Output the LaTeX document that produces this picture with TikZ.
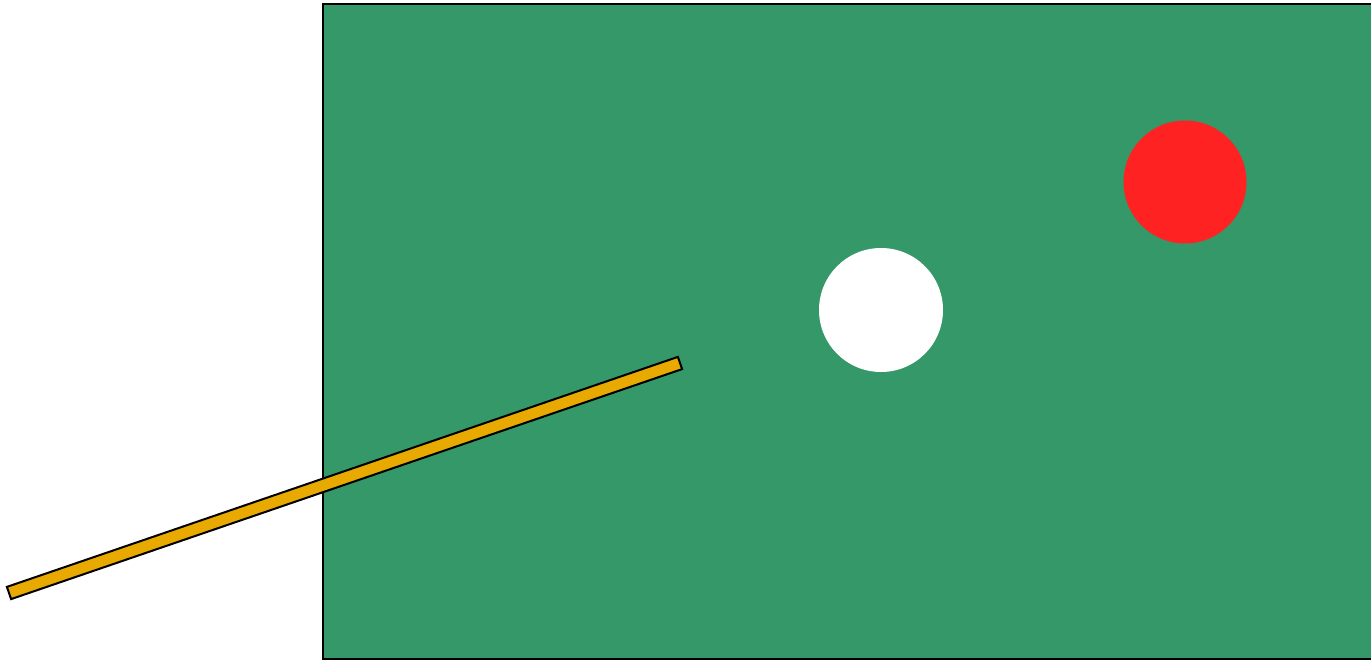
\documentclass[tikz,border=0pt]{standalone}
\definecolor{felt}{RGB}{52,152,104}
\definecolor{cuewood}{RGB}{232,170,0}
\definecolor{ballred}{RGB}{255,34,34}
\begin{document}
\begin{tikzpicture}[x=1pt,y=-1pt,
  ball/.style={circle,inner sep=0pt,minimum size=124pt,draw=none}]
\useasboundingbox (0,0) rectangle (1371,660);
\begin{scope}
\clip (0,0) rectangle (1371,660);
\draw[fill=felt,line width=2pt] (323,4) rectangle (1373,659);
\end{scope}
\node[ball,fill=white] (cueball) at (881,310) {};
\node[ball,fill=ballred,minimum size=123pt] (redball) at (1185,182) {};
\draw[fill=cuewood,line width=2pt]
  (6.9,586.9) -- (677.9,356.9) -- (682.1,369.1) -- (11.1,599.1) -- cycle;
\end{tikzpicture}
\end{document}
